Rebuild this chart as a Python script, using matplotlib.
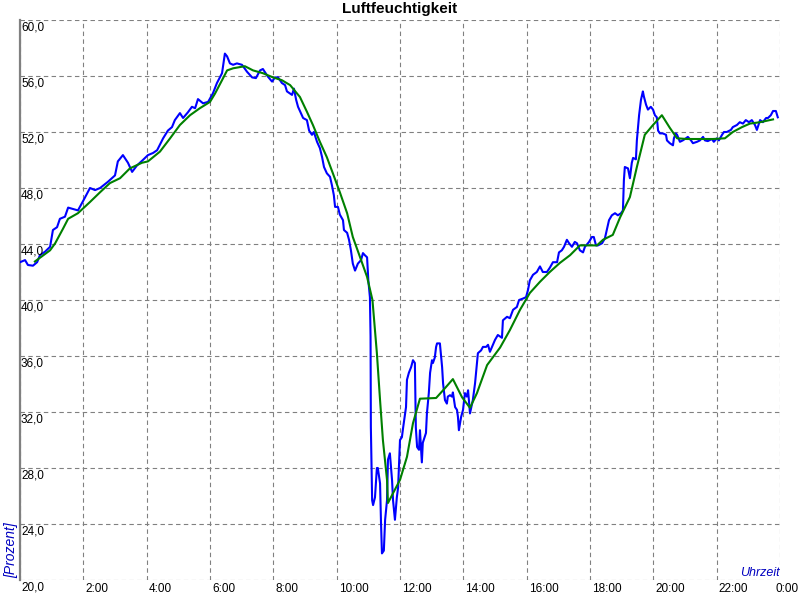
import matplotlib
matplotlib.use("Agg")
import matplotlib.pyplot as plt
import matplotlib.transforms as mtransforms

# ---------- DATA ----------
title = "Luftfeuchtigkeit"
x_label = "Uhrzeit"
y_label = "[Prozent]"

y_ticks = [20, 24, 28, 32, 36, 40, 44, 48, 52, 56, 60]
y_tick_labels = ["20,0", "24,0", "28,0", "32,0", "36,0", "40,0",
                 "44,0", "48,0", "52,0", "56,0", "60,0"]
x_ticks = [2, 4, 6, 8, 10, 12, 14, 16, 18, 20, 22, 24]
x_tick_labels = ["2:00", "4:00", "6:00", "8:00", "10:00", "12:00",
                 "14:00", "16:00", "18:00", "20:00", "22:00", "0:00"]

# measured humidity (hours since midnight, percent)
meas_hours = [
    0.00, 0.16, 0.25, 0.41, 0.54, 0.63, 0.79, 0.95, 1.04, 1.17, 1.26, 1.42,
    1.52, 1.67, 1.83, 2.00, 2.21, 2.37, 2.53, 2.78, 3.00, 3.09, 3.25, 3.41,
    3.54, 3.69, 3.88, 4.04, 4.20, 4.33, 4.52, 4.67, 4.80, 4.89, 5.05, 5.15,
    5.30, 5.43, 5.53, 5.62, 5.78, 5.94, 6.09, 6.22, 6.38, 6.47, 6.54, 6.63,
    6.73, 6.85, 7.01, 7.17, 7.33, 7.45, 7.58, 7.67, 7.83, 7.96, 8.05, 8.15,
    8.27, 8.37, 8.43, 8.59, 8.65, 8.72, 8.78, 8.87, 8.94, 9.06, 9.13, 9.22,
    9.28, 9.38, 9.47, 9.54, 9.60, 9.69, 9.79, 9.85, 9.91, 9.95, 10.04, 10.10,
    10.20, 10.23, 10.33, 10.39, 10.45, 10.51, 10.58, 10.67, 10.77, 10.83, 10.89, 10.96,
    11.00, 11.05, 11.07, 11.08, 11.12, 11.15, 11.21, 11.27, 11.30, 11.37, 11.40, 11.43,
    11.49, 11.53, 11.59, 11.62, 11.68, 11.75, 11.78, 11.84, 11.90, 11.94, 12.00, 12.06,
    12.10, 12.19, 12.22, 12.28, 12.35, 12.41, 12.47, 12.50, 12.54, 12.60, 12.63, 12.69,
    12.72, 12.82, 12.85, 12.91, 12.95, 13.01, 13.04, 13.10, 13.14, 13.17, 13.26, 13.33,
    13.36, 13.42, 13.48, 13.51, 13.58, 13.64, 13.67, 13.74, 13.80, 13.83, 13.86, 13.93,
    13.99, 14.05, 14.11, 14.15, 14.21, 14.30, 14.37, 14.43, 14.46, 14.56, 14.62, 14.72,
    14.78, 14.84, 15.00, 15.09, 15.22, 15.25, 15.38, 15.47, 15.57, 15.69, 15.76, 15.88,
    15.98, 16.04, 16.10, 16.20, 16.32, 16.42, 16.51, 16.64, 16.73, 16.83, 16.96, 17.02,
    17.11, 17.18, 17.27, 17.34, 17.43, 17.52, 17.59, 17.68, 17.78, 17.84, 17.97, 18.06,
    18.12, 18.19, 18.25, 18.38, 18.47, 18.53, 18.60, 18.69, 18.79, 18.88, 18.98, 19.04,
    19.07, 19.10, 19.20, 19.26, 19.32, 19.36, 19.45, 19.48, 19.55, 19.61, 19.67, 19.70,
    19.77, 19.83, 19.92, 19.99, 20.05, 20.11, 20.15, 20.21, 20.30, 20.40, 20.43, 20.52,
    20.62, 20.65, 20.71, 20.75, 20.84, 20.93, 21.03, 21.09, 21.19, 21.25, 21.38, 21.47,
    21.57, 21.63, 21.72, 21.85, 21.91, 22.01, 22.07, 22.17, 22.23, 22.32, 22.45, 22.51,
    22.64, 22.73, 22.83, 22.92, 23.02, 23.11, 23.21, 23.27, 23.37, 23.46, 23.56, 23.62,
    23.71, 23.78, 23.87, 23.93,
]
meas_values = [
    42.7, 42.85, 42.5, 42.45, 42.7, 43.2, 43.45, 43.8, 45.0, 45.2, 45.8, 45.95,
    46.6, 46.5, 46.4, 47.1, 48.0, 47.85, 48.0, 48.45, 48.9, 49.9, 50.35, 49.8,
    49.15, 49.6, 50.0, 50.35, 50.5, 50.7, 51.55, 52.1, 52.35, 52.85, 53.35, 53.0,
    53.4, 53.8, 53.7, 54.35, 54.05, 54.15, 54.75, 55.5, 56.2, 57.6, 57.4, 56.9,
    56.8, 56.9, 56.8, 56.3, 55.9, 55.85, 56.4, 56.5, 55.95, 55.6, 55.9, 55.9,
    55.5, 55.35, 54.9, 54.65, 55.1, 54.3, 53.8, 53.35, 53.0, 52.85, 52.1, 51.8,
    52.0, 51.3, 50.85, 50.2, 49.5, 49.05, 48.8, 48.2, 47.5, 46.65, 46.65, 46.1,
    45.7, 45.0, 44.8, 44.3, 43.55, 42.6, 42.1, 42.6, 42.85, 43.35, 43.2, 43.05,
    41.4, 40.2, 37.4, 30.9, 25.7, 25.35, 25.9, 28.0, 28.0, 26.9, 24.1, 21.9,
    22.1, 24.3, 25.7, 28.6, 29.05, 27.1, 25.7, 24.3, 25.9, 26.6, 30.0, 30.2,
    30.9, 32.35, 34.3, 34.8, 35.2, 35.7, 35.5, 30.9, 29.5, 29.3, 30.7, 28.4,
    29.8, 30.5, 31.9, 33.35, 34.8, 35.7, 35.5, 35.9, 36.65, 36.9, 36.9, 35.2,
    34.05, 32.85, 32.6, 33.1, 33.2, 33.1, 33.4, 32.35, 32.15, 31.65, 30.7, 31.65,
    32.15, 33.35, 33.1, 33.55, 31.9, 32.85, 34.05, 35.5, 36.2, 36.4, 36.65, 36.65,
    36.8, 36.3, 37.15, 37.5, 37.3, 38.55, 38.8, 38.7, 39.3, 39.5, 40.0, 40.1,
    40.2, 40.7, 41.4, 41.8, 42.0, 42.4, 42.0, 42.0, 42.3, 42.7, 42.7, 43.4,
    43.55, 43.8, 44.3, 44.05, 43.8, 44.15, 44.05, 43.55, 43.4, 43.8, 44.15, 44.5,
    44.5, 43.9, 43.9, 44.05, 44.4, 45.0, 45.7, 46.05, 46.2, 46.05, 46.2, 46.4,
    48.55, 49.5, 49.4, 48.7, 49.8, 50.15, 50.05, 51.4, 53.2, 54.3, 54.9, 54.55,
    53.95, 53.6, 53.8, 53.6, 53.2, 53.05, 52.1, 51.9, 51.9, 51.8, 51.4, 51.2,
    51.05, 51.55, 51.9, 51.8, 51.3, 51.4, 51.55, 51.65, 51.4, 51.2, 51.3, 51.4,
    51.65, 51.4, 51.35, 51.5, 51.3, 51.55, 51.4, 51.8, 52.0, 52.0, 52.15, 52.35,
    52.5, 52.7, 52.6, 52.85, 52.7, 52.85, 52.5, 52.15, 52.85, 52.7, 53.0, 53.0,
    53.2, 53.5, 53.5, 53.05,
]

# smoothed humidity
smooth_hours = [
    0.47, 0.95, 1.11, 1.36, 1.52, 1.83, 2.21, 2.53, 2.84, 3.16, 3.47, 3.85,
    4.04, 4.42, 4.74, 5.05, 5.37, 5.68, 6.00, 6.16, 6.38, 6.54, 6.73, 7.10,
    7.36, 7.67, 7.99, 8.27, 8.53, 8.84, 9.06, 9.25, 9.47, 9.69, 9.88, 10.10,
    10.33, 10.51, 10.74, 10.96, 11.13, 11.27, 11.37, 11.46, 11.59, 11.62, 11.78, 12.00,
    12.22, 12.41, 12.63, 13.14, 13.42, 13.67, 13.96, 14.21, 14.43, 14.75, 15.16, 15.47,
    15.79, 16.10, 16.42, 16.73, 17.05, 17.37, 17.68, 18.22, 18.41, 18.72, 18.95, 19.26,
    19.48, 19.73, 19.99, 20.27, 20.52, 20.75, 21.06, 21.88, 22.26, 22.51, 22.80, 23.05,
    23.37, 23.78,
]
smooth_values = [
    42.75, 43.55, 44.05, 45.1, 45.8, 46.2, 47.0, 47.7, 48.35, 48.7, 49.4, 49.8,
    49.9, 50.6, 51.55, 52.5, 53.2, 53.7, 54.15, 54.75, 55.7, 56.4, 56.55, 56.7,
    56.4, 56.2, 55.9, 55.7, 55.35, 54.5, 53.45, 52.5, 51.3, 50.2, 49.05, 47.7,
    46.2, 44.5, 43.05, 41.65, 40.0, 36.2, 32.85, 30.0, 27.15, 25.5, 26.2, 27.15,
    28.8, 31.2, 32.95, 33.0, 33.7, 34.35, 33.05, 32.3, 33.35, 35.35, 36.6, 37.85,
    39.3, 40.5, 41.3, 42.0, 42.65, 43.2, 43.9, 43.9, 44.3, 44.65, 45.9, 47.35,
    49.5, 51.8, 52.5, 53.2, 52.3, 51.55, 51.5, 51.5, 51.55, 52.0, 52.35, 52.6,
    52.7, 52.9,
]

# ---------- PLOT ----------
plt.rcParams["font.family"] = ["Liberation Sans", "DejaVu Sans"]

fig = plt.figure(figsize=(8, 6), dpi=100)
ax = fig.add_axes([20 / 800, 20 / 600, 760 / 800, 560 / 600])

ax.plot(meas_hours, meas_values, color="#0000ff", lw=1.5, zorder=3)
ax.plot(smooth_hours, smooth_values, color="#008000", lw=1.5, zorder=4)

ax.set_xlim(0, 24)
ax.set_ylim(20, 60)
ax.set_xticks([0] + x_ticks)
ax.set_yticks(y_ticks)
ax.tick_params(length=0, labelbottom=False, labelleft=False)
ax.grid(True, color="#808080", lw=0.8, linestyle=(0, (4, 3)))

for side in ["top", "right", "bottom"]:
    ax.spines[side].set_visible(False)
ax.spines["left"].set_color("#808080")
ax.spines["left"].set_linewidth(1.6)

# y tick labels inside the plot, just under each grid line
ytrans = mtransforms.offset_copy(
    mtransforms.blended_transform_factory(ax.transAxes, ax.transData),
    fig=fig, x=1, y=-1, units="dots")
for v, lab in zip(y_ticks, y_tick_labels):
    ax.text(0, v, lab, transform=ytrans, ha="left", va="top",
            fontsize=8.5, color="black", clip_on=False)

# x tick labels below the axis, left aligned at the tick
xbase = mtransforms.blended_transform_factory(ax.transData, ax.transAxes)
for h, lab in zip(x_ticks, x_tick_labels):
    dx = 2 if h < 24 else -4   # last one pulled in so it stays on the canvas
    tr = mtransforms.offset_copy(xbase, fig=fig, x=dx, y=-3, units="dots")
    ax.text(h, 0, lab, transform=tr, ha="left", va="top",
            fontsize=8.5, color="black", clip_on=False)

fig.text(0.5, 1 - 2 / 600, title, ha="center", va="top",
         fontsize=11, fontweight="bold")
ax.text(1.0, 0.007, x_label, transform=ax.transAxes, ha="right",
        va="baseline", fontsize=9, style="italic", color="#0000c0")
fig.text(11 / 800, 22 / 600, y_label, rotation=90, ha="center", va="bottom",
         fontsize=10, style="italic", color="#0000c0")

fig.savefig("out.png", dpi=100)
